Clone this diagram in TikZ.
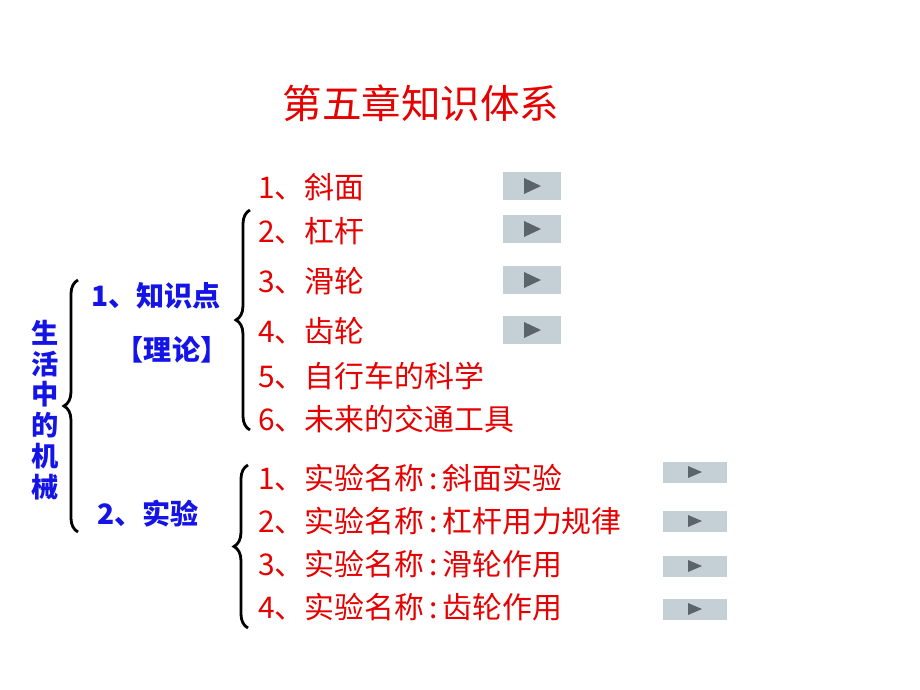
\documentclass[tikz,border=0pt]{standalone}
\usepackage{fontspec}
\setmainfont{Liberation Sans}
\newfontfamily\cjk{Noto Sans CJK SC}
\usetikzlibrary{decorations.pathreplacing}
\definecolor{myred}{RGB}{230,0,0}
\definecolor{myblue}{RGB}{20,20,230}
\definecolor{btn}{RGB}{196,208,214}
\definecolor{tri}{RGB}{90,100,105}
\begin{document}
\begin{tikzpicture}[x=0.02cm,y=-0.02cm,
  item/.style={anchor=west,text=myred,font=\cjk\fontsize{17}{19}\selectfont,inner sep=0},
  blu/.style={text=myblue,font=\cjk\bfseries\fontsize{16}{18}\selectfont,inner sep=0},
  brc/.style={decorate,decoration={brace,amplitude=8pt},line width=1.6pt},
  bigbtn/.style={fill=btn,minimum width=1.16cm,minimum height=0.56cm,inner sep=0},
  smbtn/.style={fill=btn,minimum width=1.28cm,minimum height=0.42cm,inner sep=0}]
\useasboundingbox (0,0) rectangle (920,690);
\fill[white] (0,0) rectangle (920,690);
\node[text=myred,font=\cjk\fontsize{22.5}{25}\selectfont] (title) at (421,103) {第五章知识体系};
\node[blu,align=center,font=\cjk\bfseries\fontsize{15.5}{17.5}\selectfont] (side) at (45,410) {生\\活\\中\\的\\机\\械};
\coordinate (b1t) at (78,280); \coordinate (b1b) at (78,532);
\draw[brc] (b1b) -- (b1t);
\node[blu] (k1) at (156,296) {1、知识点};
\node[blu] (k2) at (172,350) {【理论】};
\node[blu] (k3) at (148,514) {2、实验};
\coordinate (b2t) at (250,210); \coordinate (b2b) at (250,430);
\draw[brc] (b2b) -- (b2t);
\coordinate (b3t) at (248,465); \coordinate (b3b) at (248,628);
\draw[brc] (b3b) -- (b3t);
\node[item] (a1) at (258,187) {1、斜面};
\node[item] (a2) at (258,231) {2、杠杆};
\node[item] (a3) at (258,281) {3、滑轮};
\node[item] (a4) at (258,331) {4、齿轮};
\node[item] (a5) at (258,376) {5、自行车的科学};
\node[item] (a6) at (258,419) {6、未来的交通工具};
\node[item] (e1) at (258,478) {1、实验名称\,:\,斜面实验};
\node[item] (e2) at (258,521) {2、实验名称\,:\,杠杆用力规律};
\node[item] (e3) at (258,564) {3、实验名称\,:\,滑轮作用};
\node[item] (e4) at (258,607) {4、实验名称\,:\,齿轮作用};
\foreach \y [count=\i] in {186,229,280,330}{
  \node[bigbtn] (p\i) at (532,\y) {};
  \fill[tri] (524,\y-8) -- (541,\y) -- (524,\y+8) -- cycle;
}
\foreach \y [count=\i] in {472,521,566,609}{
  \node[smbtn] (q\i) at (695,\y) {};
  \fill[tri] (688,\y-6) -- (702,\y) -- (688,\y+6) -- cycle;
}
\end{tikzpicture}
\end{document}
